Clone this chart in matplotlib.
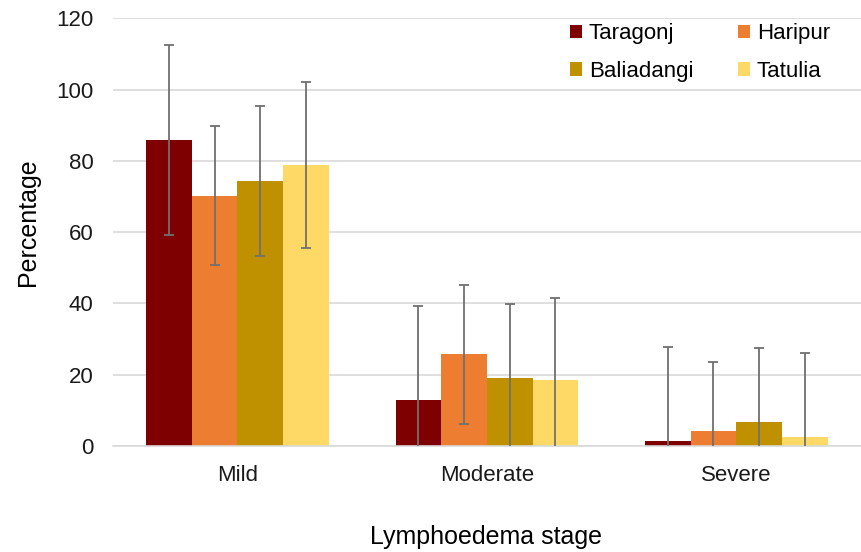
import numpy as np
import matplotlib.pyplot as plt

plt.rcParams['font.family'] = ['Liberation Sans', 'DejaVu Sans']

stages = ["Mild", "Moderate", "Severe"]
series = ["Taragonj", "Haripur", "Baliadangi", "Tatulia"]
colors = ["#7F0000", "#ED7D31", "#BF9000", "#FFD966"]

# mean percentage per stage, per upazila
taragonj = [85.8, 12.8, 1.4]
haripur = [70.2, 25.7, 4.1]
baliadangi = [74.3, 19.1, 6.6]
tatulia = [78.9, 18.5, 2.6]

# error bar half-lengths
taragonj_err = [26.6, 26.5, 26.5]
haripur_err = [19.5, 19.5, 19.5]
baliadangi_err = [21.0, 20.8, 21.0]
tatulia_err = [23.3, 23.1, 23.4]

values = [taragonj, haripur, baliadangi, tatulia]
errors = [taragonj_err, haripur_err, baliadangi_err, tatulia_err]

fig = plt.figure(figsize=(8.61, 5.52), dpi=100)
ax = fig.add_axes([0.131, 0.192, 0.869, 0.775])

x = np.arange(len(stages))
w = 0.183
bars = []
for i, (name, vals, errs, c) in enumerate(zip(series, values, errors, colors)):
    pos = x + (i - 1.5) * w
    b = ax.bar(pos, vals, w, color=c, label=name, zorder=2)
    bars.append(b)
    ax.errorbar(pos, vals, yerr=errs, fmt='none', ecolor='#707070',
                elinewidth=1.3, capsize=3.5, capthick=1.3, zorder=3)

ax.set_xlim(-0.5, 2.5)
ax.set_ylim(0, 120)
ax.set_yticks(range(0, 121, 20))
ax.yaxis.grid(True, color='#D9D9D9', linewidth=1.2, zorder=0)
ax.set_axisbelow(True)
for s in ['top', 'right', 'left']:
    ax.spines[s].set_visible(False)
ax.spines['bottom'].set_color('#D9D9D9')
ax.spines['bottom'].set_linewidth(1.2)
ax.tick_params(axis='y', length=0, labelsize=16, colors='#1a1a1a', pad=14)
ax.tick_params(axis='x', length=0, labelsize=16, colors='#1a1a1a', pad=14)
ax.set_xticks(x)
ax.set_xticklabels(stages)

fig.text(0.033, 0.598, "Percentage", fontsize=18, rotation=90,
         ha='center', va='center')
fig.text(0.565, 0.027, "Lymphoedema stage", fontsize=18,
         ha='center', va='center')

# legend fills row-wise in the reference
order = [0, 2, 1, 3]
ax.legend([bars[k] for k in order], [series[k] for k in order],
          ncol=2, loc='upper right', bbox_to_anchor=(0.985, 1.035), frameon=False,
          fontsize=16, handlelength=0.55, handleheight=0.55, handletextpad=0.3,
          columnspacing=2.0, labelspacing=0.75)

fig.savefig("out.png", dpi=100)
